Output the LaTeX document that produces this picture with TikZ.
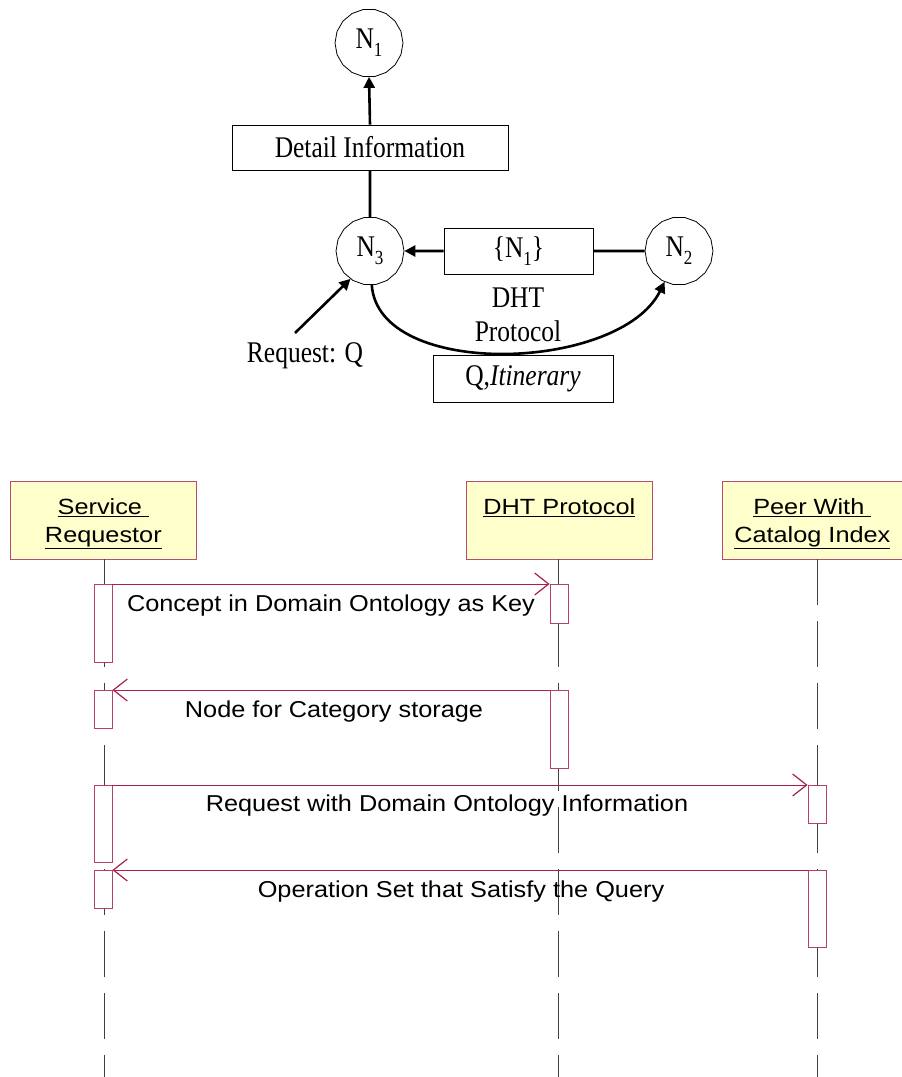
\documentclass[tikz,border=0pt]{standalone}
\usepackage{fontspec}
\setmainfont{Liberation Serif}[FakeStretch=0.85]
\newfontfamily\arialf{Liberation Sans}[FakeStretch=1.1]
\newfontfamily\arialh{Liberation Sans}[FakeStretch=1.15]
\usetikzlibrary{arrows.meta,shapes.geometric}
\definecolor{seqred}{HTML}{A8204E}
\definecolor{headfill}{HTML}{FFFFCC}
\newcommand{\nsub}[1]{\raisebox{-8pt}{\fontsize{20}{20}\selectfont #1}}
\tikzset{
  peer/.style={draw,line width=0.8pt,regular polygon,regular polygon sides=18,minimum size=68pt,inner sep=0pt,font=\fontsize{30}{32}\selectfont},
  tbox/.style={draw,line width=0.8pt,inner sep=0pt,font=\fontsize{30}{32}\selectfont},
  thick arrow/.style={line width=2.6pt,-{Triangle[length=11pt,width=11pt]}},
  thick line/.style={line width=2.6pt},
  lbl/.style={font=\fontsize{30}{32}\selectfont,inner sep=0pt},
  head/.style={draw=seqred!80,fill=headfill,line width=0.7pt,minimum width=186pt,minimum height=78pt,anchor=north west,inner sep=0pt,align=center,font=\arialh\fontsize{22}{30}\selectfont,text depth=0pt},
  act/.style={draw=seqred!85,fill=white,line width=0.8pt,minimum width=18pt,inner sep=0pt,anchor=north},
  life/.style={draw=black!75,line width=0.7pt,dash pattern=on 46pt off 16pt},
  msg/.style={draw=seqred,line width=0.9pt,-{Straight Barb[length=14pt,width=22pt,line width=1.2pt]}},
  mlbl/.style={font=\arialf\fontsize{23}{25}\selectfont,inner sep=0pt}
}
\begin{document}
\begin{tikzpicture}[x=1pt,y=-1pt]
\useasboundingbox (0,0) rectangle (902,1077);
% ---------- top diagram ----------
\node[peer] (n1) at (369,43) {N\nsub{1}};
\node[peer] (n3) at (370,251) {N\nsub{3}};
\node[peer] (n2) at (679,251) {N\nsub{2}};
\node[tbox,minimum width=276pt,minimum height=45pt] (detail) at (370,147.5) {Detail Information};
\node[tbox,minimum width=149pt,minimum height=46pt] (set) at (518.5,251) {\{N\nsub{1}\}};
\node[tbox,minimum width=180pt,minimum height=47pt] (qit) at (523,378.5) {Q,\textit{Itinerary}};
\node[lbl] (dht) at (518,298) {DHT};
\node[lbl] (proto) at (518,331) {Protocol};
\node[lbl] (req) at (305,356) {Request: Q};
\draw[thick arrow] (detail.north) -- (n1.south);
\draw[thick line] (n3.north) -- (detail.south);
\draw[thick line] (n2.west) -- (set.east);
\draw[thick arrow] (set.west) -- (n3.east);
\coordinate (rqs) at (295,333);
\draw[thick arrow] (rqs) -- (n3.235);
\draw[thick arrow] (n3.-87) .. controls (378,380) and (620,372) .. (n2.-115);
% ---------- sequence diagram ----------
\node[head] (sr) at (10,481) {\underline{Service }\\[-2pt]\underline{Requestor}};
\node[head] (dp) at (466,481) {\underline{DHT Protocol}\\[-2pt]\strut};
\node[head,minimum width=180pt] (pc) at (722,481) {\underline{Peer With }\\[-2pt]\underline{Catalog Index}};
\coordinate (srend) at (104,1077);
\coordinate (dpend) at (558,1077);
\coordinate (pcend) at (817,1077);
\draw[life] (104,559) -- (srend);
\draw[life] (558,559) -- (dpend);
\draw[life] (817,559) -- (pcend);
\node[act,minimum height=78pt] (a1) at (103,584) {};
\node[act,minimum height=38pt] (a2) at (103,690) {};
\node[act,minimum height=77pt] (a3) at (103,785) {};
\node[act,minimum height=38pt] (a4) at (103,870) {};
\node[act,minimum height=39pt] (d1) at (559,584) {};
\node[act,minimum height=78pt] (d2) at (559,690) {};
\node[act,minimum height=38pt] (p1) at (817,785) {};
\node[act,minimum height=77pt] (p2) at (817,870) {};
\draw[msg] (a1.north east) -- (d1.north west);
\draw[msg] (d2.north west) -- (a2.north east);
\draw[msg] (a3.north east) -- (p1.north west);
\draw[msg] (p2.north west) -- (a4.north east);
\node[mlbl] (m1) at (331,606) {Concept in Domain Ontology as Key};
\node[mlbl] (m2) at (334,712) {Node for Category storage};
\node[mlbl] (m3) at (447,806) {Request with Domain Ontology Information};
\node[mlbl] (m4) at (461,892) {Operation Set that Satisfy the Query};
\end{tikzpicture}
\end{document}
